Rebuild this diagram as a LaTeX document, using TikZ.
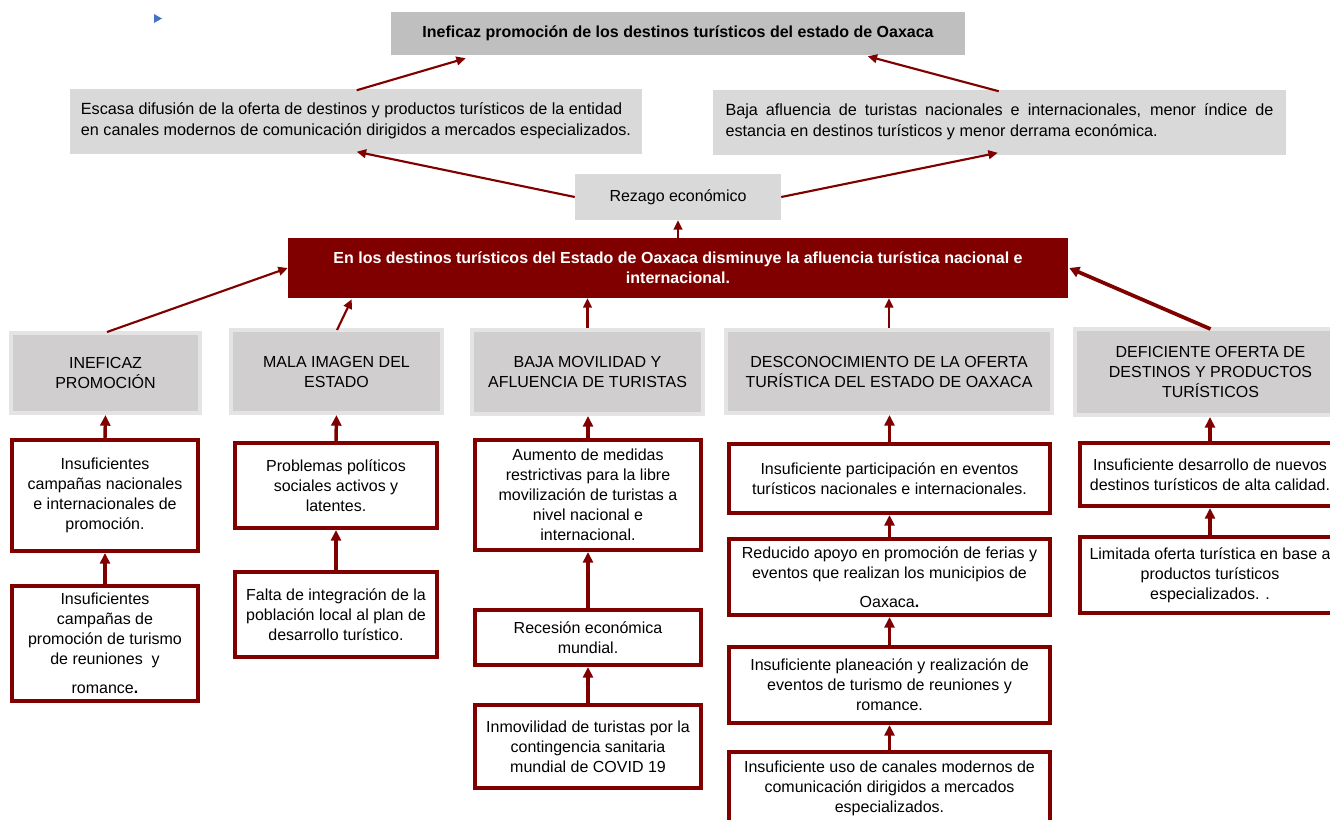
\documentclass[tikz,border=0pt]{standalone}
\usepackage{fontspec}
\setmainfont{Liberation Sans}
\usetikzlibrary{arrows.meta,calc}
\definecolor{dred}{HTML}{800000}
\definecolor{topgray}{HTML}{BFBFBF}
\definecolor{effgray}{HTML}{D9D9D9}
\definecolor{catgray}{HTML}{D0CECE}
\definecolor{catborder}{HTML}{E4E4E4}
\definecolor{markblue}{HTML}{4472C4}
\tikzset{
  every node/.style={font=\fontsize{12}{15}\selectfont, inner sep=0pt, anchor=center},
  sz/.style 2 args={minimum width=#1*0.75pt, minimum height=#2*0.75pt},
  arr/.style={draw=dred, line width=1.6pt, -{Triangle[length=7pt,width=6.5pt]}},
  thickarr/.style={draw=dred, line width=2.8pt, -{Triangle[length=7.5pt,width=8pt]}},
  varr/.style={draw=dred, line width=2.6pt, -{Triangle[length=8pt,width=7.5pt]}},
  topbox/.style={fill=topgray, font=\fontsize{12}{15}\selectfont\bfseries},
  effbox/.style={fill=effgray, font=\fontsize{12.15}{15.5}\selectfont},
  catbox/.style={fill=catgray, draw=catborder, line width=3pt, align=center},
  causebox/.style={fill=white, draw=dred, line width=3pt, align=center},
  mainbox/.style={fill=dred, text=white, font=\fontsize{12}{15}\selectfont\bfseries, align=center}
}
\begin{document}
\begin{tikzpicture}[x=0.75pt,y=-0.75pt]
\useasboundingbox (0,0) rectangle (1330,819);
\fill[white] (0,0) rectangle (1330,819);
% small blue marker
\fill[markblue] (154,14) -- (162,18.5) -- (154,23) -- cycle;

% effects
\node[topbox, sz={574}{43}] (top) at (678,33.5) {Ineficaz promoción de los destinos turísticos del estado de Oaxaca};
\node[effbox, sz={572}{65}, align=left] (effL) at (356,121) {Escasa difusión de la oferta de destinos y productos turísticos de la entidad\\en canales modernos de comunicación dirigidos a mercados especializados.};
\node[effbox, sz={573}{65}, align=left] (effR) at (999.5,122) {\makebox[411pt][s]{Baja afluencia de turistas nacionales e internacionales, menor índice de}\\estancia en destinos turísticos y menor derrama económica.};
\node[effbox, sz={206}{46}, font=\fontsize{12}{15}\selectfont] (rez) at (678,197) {Rezago económico};
\node[mainbox, sz={780}{60}] (main) at (678,268) {En los destinos turísticos del Estado de Oaxaca disminuye la afluencia turística nacional e\\internacional.};

% categories
\node[catbox, sz={189}{80}] (c1) at (105.5,373) {INEFICAZ\\PROMOCIÓN};
\node[catbox, sz={211}{83}] (c2) at (336.5,371.5) {MALA IMAGEN DEL\\ESTADO};
\node[catbox, sz={231}{84}] (c3) at (587.5,372) {BAJA MOVILIDAD Y\\AFLUENCIA DE TURISTAS};
\node[catbox, sz={326}{83}] (c4) at (889,371.5) {DESCONOCIMIENTO DE LA OFERTA\\TURÍSTICA DEL ESTADO DE OAXACA};
\node[catbox, sz={271}{86}] (c5) at (1210.5,372) {DEFICIENTE OFERTA DE\\DESTINOS Y PRODUCTOS\\TURÍSTICOS};

% causes
\node[causebox, sz={186}{111}] (a1) at (105,495.5) {Insuficientes\\campañas nacionales\\e internacionales de\\promoción.};
\node[causebox, sz={186}{115}] (a2) at (105,643.5) {Insuficientes\\campañas de\\promoción de turismo\\de reuniones~~y\\[7pt]romance\textbf{.}};
\node[causebox, sz={202}{85}] (b1) at (336,485.5) {Problemas políticos\\sociales activos y\\latentes.};
\node[causebox, sz={202}{85}] (b2) at (336,614.5) {Falta de integración de la\\población local al plan de\\desarrollo turístico.};
\node[causebox, sz={226}{110}] (d1) at (588,495) {Aumento de medidas\\restrictivas para la libre\\movilización de turistas a\\nivel nacional e\\internacional.};
\node[causebox, sz={226}{55}] (d2) at (588,637.5) {Recesión económica\\mundial.};
\node[causebox, sz={226}{83}] (d3) at (588,746.5) {Inmovilidad de turistas por la\\contingencia sanitaria\\mundial de COVID 19};
\node[causebox, sz={321}{69}] (e1) at (889.5,478.5) {Insuficiente participación en eventos\\turísticos nacionales e internacionales.};
\node[causebox, sz={321}{76}] (e2) at (889.5,577) {Reducido apoyo en promoción de ferias y\\eventos que realizan los municipios de\\[7pt]Oaxaca\textbf{.}};
\node[causebox, sz={321}{76}] (e3) at (889.5,685) {Insuficiente planeación y realización de\\eventos de turismo de reuniones y\\romance.};
\node[causebox, sz={321}{72}] (e4) at (889.5,788) {Insuficiente uso de canales modernos de\\comunicación dirigidos a mercados\\especializados.};
\node[causebox, sz={260}{63}] (f1) at (1210,474.5) {Insuficiente desarrollo de nuevos\\destinos turísticos de alta calidad.};
\node[causebox, sz={260}{76}] (f2) at (1210,575) {Limitada oferta turística en base a\\productos turísticos\\especializados. .};

% vertical cause arrows
\draw[varr] (a1.north) -- (c1.south);
\draw[varr] (a2.north) -- (a1.south);
\draw[varr] (b1.north) -- (c2.south);
\draw[varr] (b2.north) -- (b1.south);
\draw[varr] (d1.north) -- (d1.north |- c3.south);
\draw[varr] (d2.north) -- (d1.south);
\draw[varr] (d3.north) -- (d2.south);
\draw[varr] (e1.north) -- (e1.north |- c4.south);
\draw[varr] (e2.north) -- (e1.south);
\draw[varr] (e3.north) -- (e2.south);
\draw[varr] (e4.north) -- (e3.south);
\draw[varr] (f1.north) -- (f1.north |- c5.south);
\draw[varr] (f2.north) -- (f1.south);

% categories to main problem
\draw[arr] ($(c1.north)+(1.5,1)$) -- (main.west);
\draw[arr] ($(c2.north)+(0.5,2)$) -- ($(main.south west)+(64,1)$);
\draw[arr] (c3.north) -- (c3.north |- main.south);
\draw[arr] (c4.north) -- (c4.north |- main.south);
\draw[thickarr] ($(c5.north)+(0,2)$) -- ($(main.east)+(1,0)$);

% main problem to effects
\draw[arr] (main.north) -- (rez.south);
\draw[arr] (rez.west) -- ($(effL.south west)+(287,-2)$);
\draw[arr] (rez.east) -- ($(effR.south west)+(285,-2)$);
\draw[arr] ($(effL.north west)+(287,2)$) -- ($(top.south west)+(75,3)$);
\draw[arr] ($(effR.north west)+(286,2)$) -- ($(top.south west)+(477,1)$);
\end{tikzpicture}
\end{document}
